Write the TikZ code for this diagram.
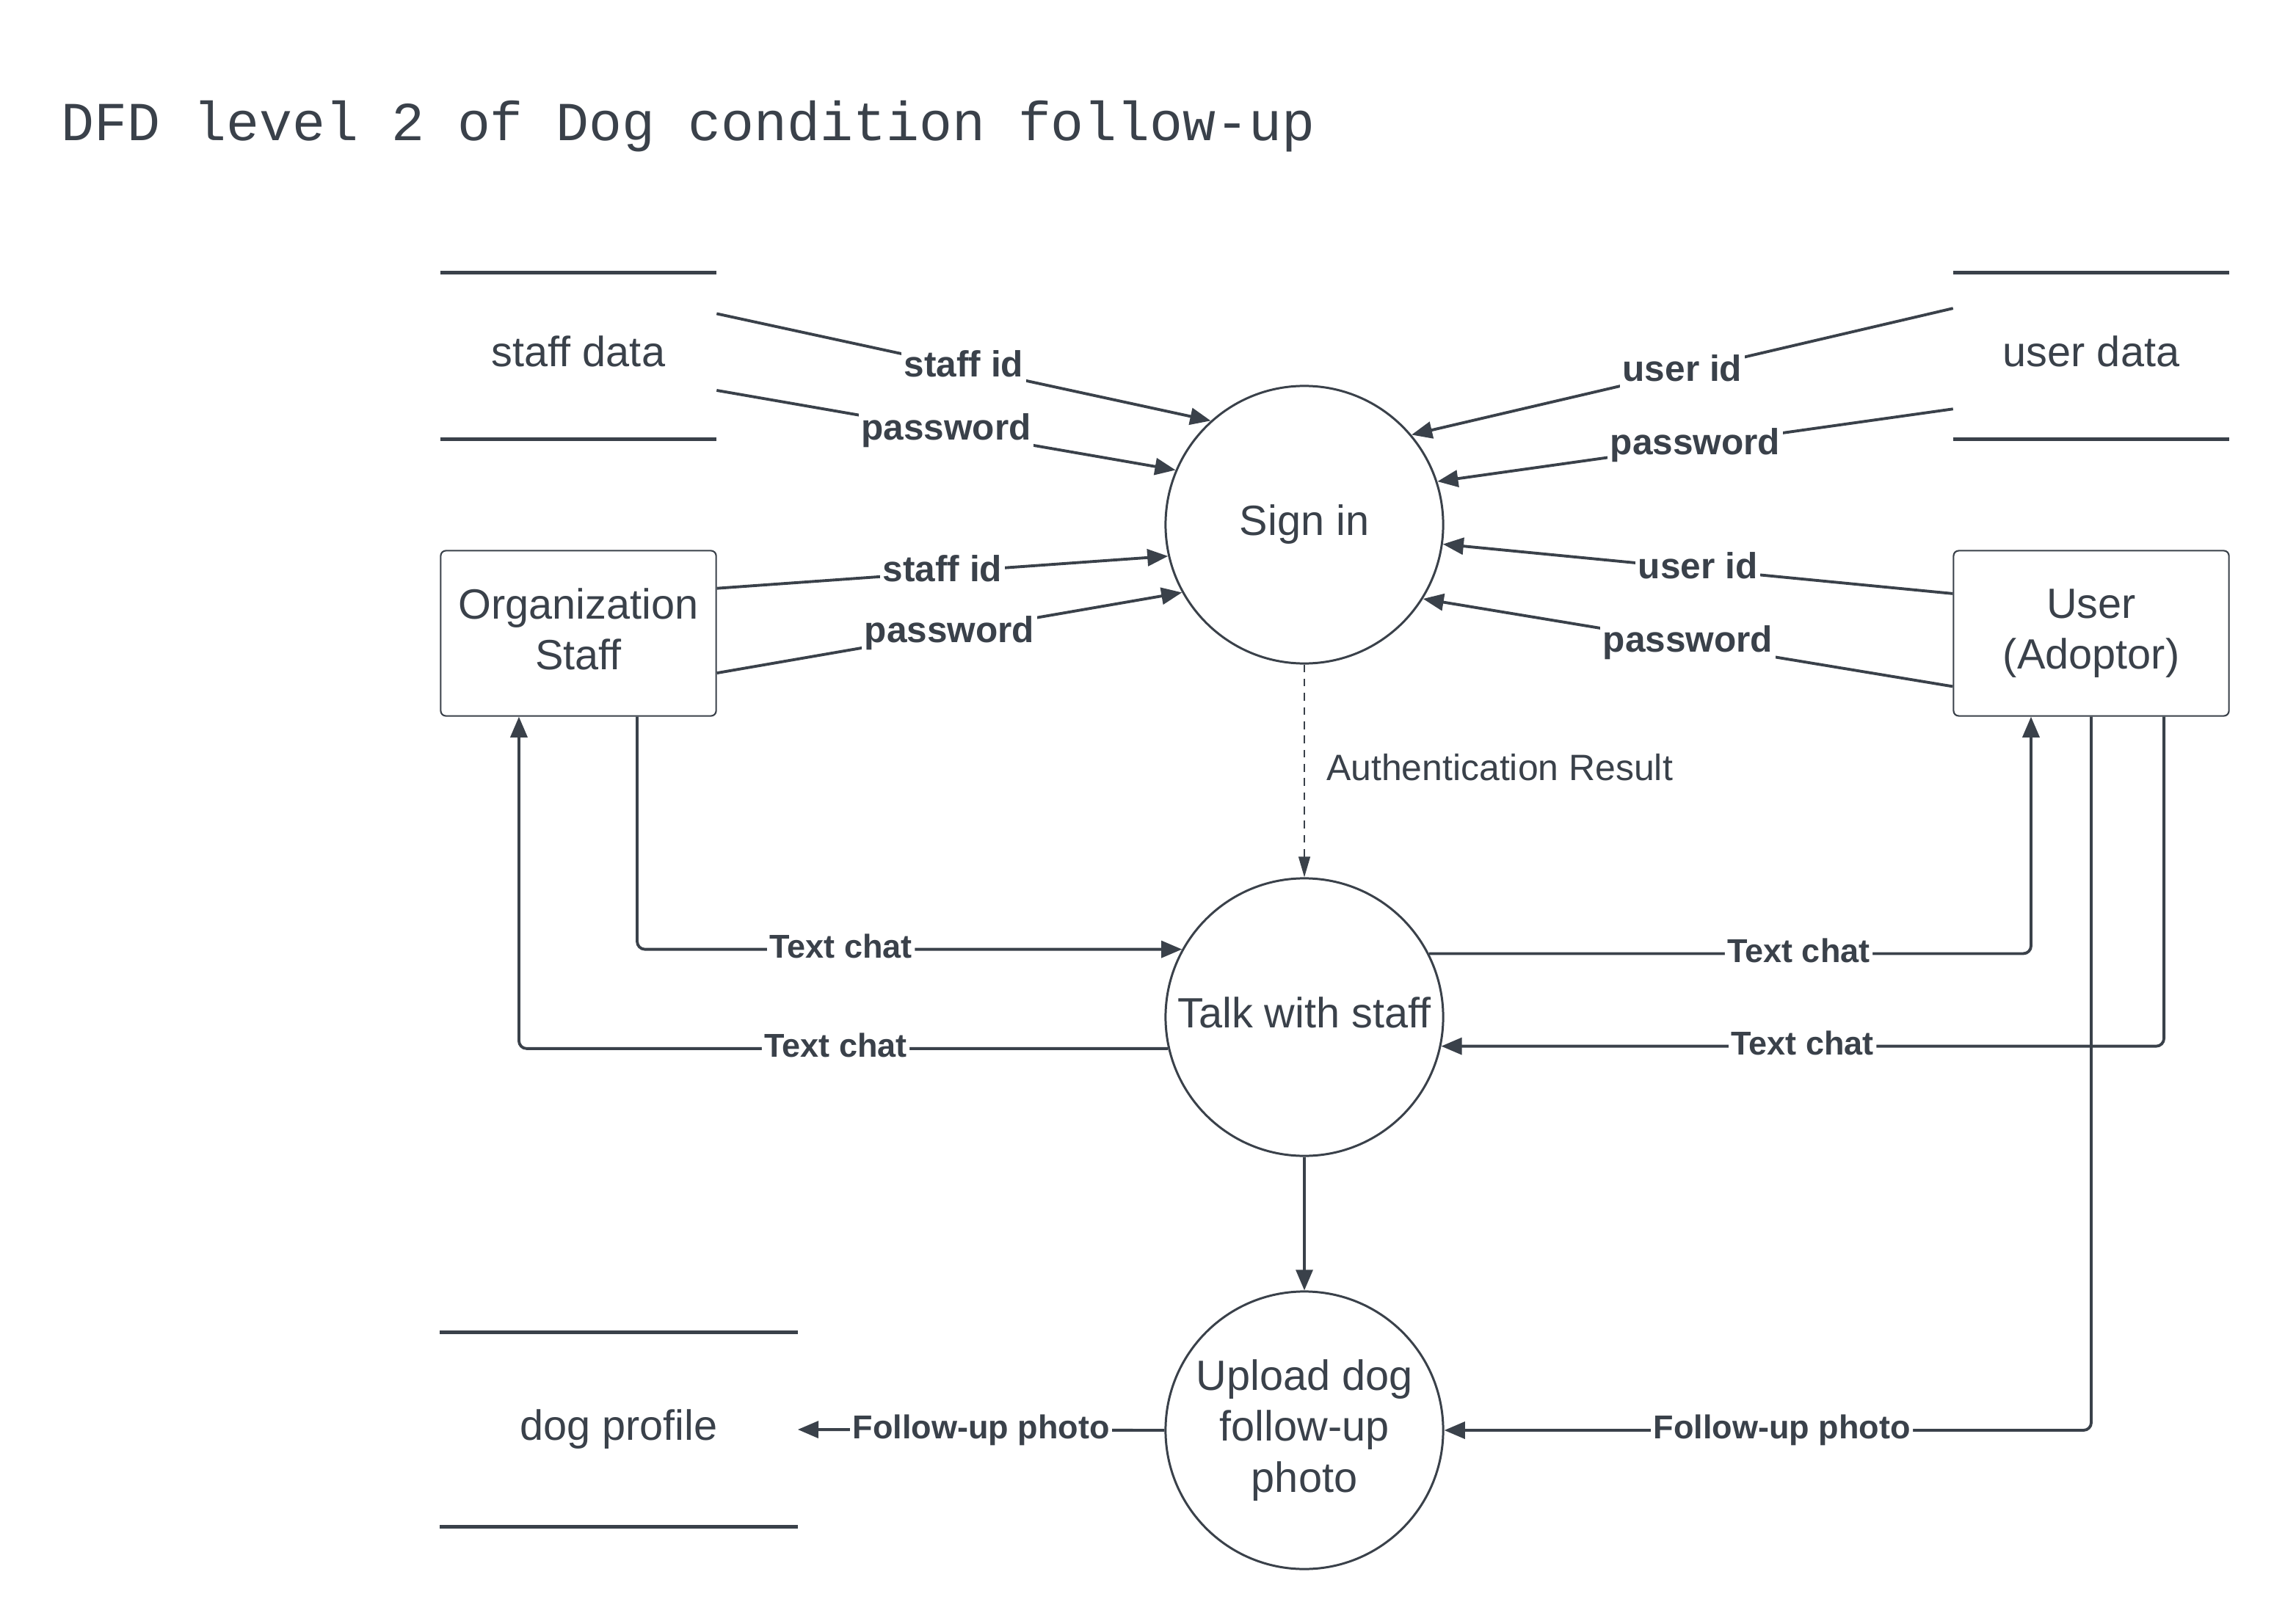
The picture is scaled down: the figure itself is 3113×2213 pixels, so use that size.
\documentclass[tikz,border=0pt]{standalone}
\usepackage{fontspec}
\setmainfont{Liberation Sans}
\setmonofont{Liberation Mono}
\usetikzlibrary{arrows.meta}
\definecolor{lucid}{HTML}{3A414A}

\begin{document}
\begin{tikzpicture}[x=0.01cm, y=-0.01cm,
    every node/.style={text=lucid},
    proc/.style={circle, draw=lucid, line width=0.85pt, minimum size=3.78cm, inner sep=0pt, align=center, font=\fontsize{16.4}{19.7}\selectfont},
    entity/.style={rectangle, rounded corners=2pt, draw=lucid, line width=0.6pt, minimum width=3.75cm, minimum height=2.25cm, align=center, font=\fontsize{16.4}{19.7}\selectfont},
    store/.style={rectangle, minimum width=3.75cm, minimum height=2.25cm, text height=12pt, text depth=3.5pt, font=\fontsize{16.4}{19.7}\selectfont},
    flow/.style={draw=lucid, line width=1.1pt, -{Triangle[length=8pt,width=6.5pt]}},
    lbl/.style={fill=white, inner sep=1pt, text height=10.3pt, text depth=3pt, font=\bfseries\fontsize{14.1}{16}\selectfont},
    chat/.style={fill=white, inner sep=1pt, text height=9.4pt, text depth=2.7pt, font=\bfseries\fontsize{12.8}{15}\selectfont}]
      \useasboundingbox (0,0) rectangle (3113,2213);
      \node[anchor=base west, inner sep=0pt, font=\ttfamily\fontsize{21.3}{25}\selectfont] (title) at (83,192) {DFD level 2 of Dog condition follow-up};

      % data stores
      \node[store] (staffdata) at (788,485) {staff data};
      \node[store] (userdata) at (2849,485) {user data};
      \node[store, minimum width=4.86cm, minimum height=2.64cm] (dogprofile) at (843,1948) {dog profile};
      \foreach \s in {staffdata, userdata, dogprofile}
        \draw[lucid, line width=1.4pt] (\s.north west) -- (\s.north east) (\s.south west) -- (\s.south east);

      % external entities
      \node[entity] (orgstaff) at (788,863) {Organization\\Staff\vphantom{p}};
      \node[entity] (user) at (2849,863) {User\\(Adoptor)};

      % processes
      \node[proc] (signin) at (1777,715) {Sign in};
      \node[proc] (talk) at (1777,1386) {Talk with staff\vphantom{p}};
      \node[proc] (upload) at (1777,1949) {Upload dog\\follow-up\\photo};

      % sign in flows
      \draw[flow] (staffdata.17.7) -- (signin.132) node[lbl, midway] {staff id};
      \draw[flow] (staffdata.-14.1) -- (signin.157) node[lbl, midway] {password};
      \draw[flow] (userdata.161.2) -- (signin.40.5) node[lbl, midway] {user id};
      \draw[flow] (userdata.201.3) -- (signin.18) node[lbl, midway] {password};
      \draw[flow] (orgstaff.18.6) -- (signin.193.7) node[lbl, midway] {staff id};
      \draw[flow] (orgstaff.-16.6) -- (signin.209.6) node[lbl, midway] {password};
      \draw[flow] (user.164.2) -- (signin.-8) node[lbl, midway] {user id};
      \draw[flow] (user.201) -- (signin.-32) node[lbl, midway] {password};

      \draw[flow, line width=0.6pt, dash pattern=on 3pt off 2.5pt, -{Triangle[length=8pt,width=4.5pt]}] (signin.south) -- (talk.north)
        node[midway, right, inner sep=0pt, xshift=0.29cm, yshift=1.5pt, font=\fontsize{14.2}{17}\selectfont] {Authentication Result};

      % chat flows
      \draw[flow, rounded corners=3pt] ([xshift=0.8cm]orgstaff.south) |- (talk.151) node[chat, pos=0.687] {Text chat};
      \draw[flow, rounded corners=3pt] (talk.193) -| ([xshift=-0.81cm]orgstaff.south) node[chat, pos=0.256] {Text chat};
      \draw[flow, rounded corners=3pt] (talk.27.6) -| ([xshift=-0.82cm]user.south) node[chat, pos=0.307] {Text chat};
      \draw[flow, rounded corners=3pt] ([xshift=0.99cm]user.south) |- (talk.-12) node[chat, pos=0.75] {Text chat};

      % follow-up photo
      \draw[flow] (talk.south) -- (upload.north);
      \draw[flow, rounded corners=3pt] (user.south) |- (upload.east) node[chat, pos=0.739] {Follow-up photo};
      \draw[flow] (upload.west) -- (dogprofile.east) node[chat, midway] {Follow-up photo};
\end{tikzpicture}
\end{document}
